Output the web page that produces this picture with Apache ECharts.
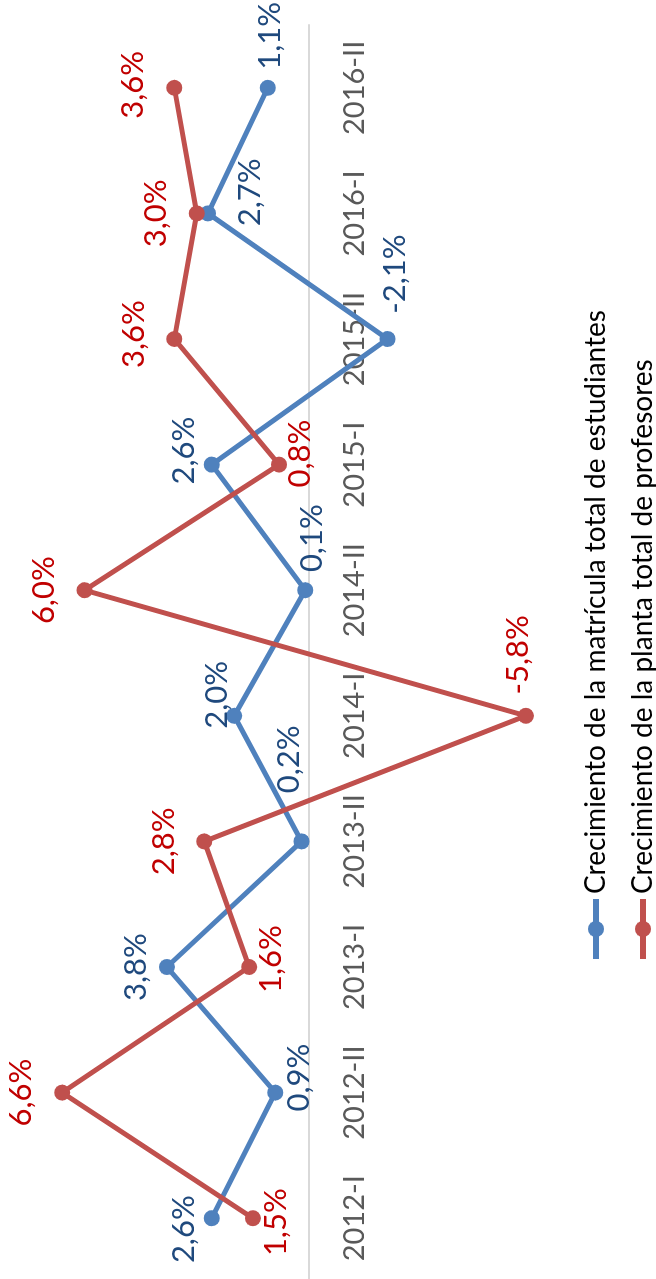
<!DOCTYPE html>
<html><head><meta charset="utf-8">
<script src="https://cdn.jsdelivr.net/npm/echarts@6/dist/echarts.min.js"></script>
<style>
html,body{margin:0;padding:0;width:656px;height:1279px;overflow:hidden;background:#fff;}
#chart{position:absolute;left:0;top:0;width:1279px;height:656px;transform-origin:0 0;transform:translate(0,1279px) rotate(-90deg);}
</style></head><body><div id="chart"></div>
<script>
const categories = ['2012-I','2012-II','2013-I','2013-II','2014-I','2014-II','2015-I','2015-II','2016-I','2016-II'];
const seriesNames = ['Crecimiento de la matrícula total de estudiantes','Crecimiento de la planta total de profesores'];
const matricula = [2.6, 0.9, 3.8, 0.2, 2.0, 0.1, 2.6, -2.1, 2.7, 1.1];
const profesores = [1.5, 6.6, 1.6, 2.8, -5.8, 6.0, 0.8, 3.6, 3.0, 3.6];

// label placement (style only): [dx, dy] from the point
const matriculaLabelOffsets = [[-11,-28],[15,24],[0,-31],[82,-13],[21,-17],[52,7],[14,-28],[65,7],[21,42],[52,2]];
const profesoresLabelOffsets = [[-4,23],[0,-41],[8,22],[0,-40],[61,-8],[0,-41],[11,21],[5,-40],[0,-41],[3,-41]];

const FONT = 'Lato, "Open Sans", sans-serif';
const fmt = p => p.value.toFixed(1).replace('.', ',') + '%';

const Y_MIN = -8, Y_MAX = 8;
const GRID_TOP = 9.8, GRID_BOTTOM = 47.8, CHART_H = 656;

function makeSeries(name, values, offsets, color, labelColor) {
  return {
    name: name,
    type: 'line',
    data: values.map((v, i) => ({ value: v, label: { offset: offsets[i] } })),
    symbol: 'circle',
    symbolSize: 16,
    lineStyle: { width: 5, color: color },
    itemStyle: { color: color },
    label: {
      show: true,
      position: 'inside',
      align: 'center',
      verticalAlign: 'middle',
      formatter: fmt,
      color: labelColor,
      fontSize: 31,
      fontFamily: FONT
    },
    emphasis: { disabled: true }
  };
}

// distance from grid bottom up to the zero line (axis sits on zero)
const gridH = CHART_H - GRID_TOP - GRID_BOTTOM;
const zeroOffset = gridH * (0 - Y_MIN) / (Y_MAX - Y_MIN);

const chart = echarts.init(document.getElementById('chart'), null, { renderer: 'canvas', width: 1279, height: 656 });
chart.setOption({
  animation: false,
  backgroundColor: '#ffffff',
  grid: { left: -2, right: 25, top: GRID_TOP, bottom: GRID_BOTTOM, containLabel: false, outerBoundsMode: 'none' },
  xAxis: {
    type: 'category',
    data: categories,
    boundaryGap: true,
    position: 'bottom',
    offset: -zeroOffset,
    axisLine: { show: true, onZero: false, lineStyle: { color: '#D9D9D9', width: 2 } },
    axisTick: { show: false },
    axisLabel: { color: '#595959', fontSize: 29, fontFamily: FONT, margin: 46, verticalAlign: 'middle', interval: 0 },
    splitLine: { show: false }
  },
  yAxis: {
    type: 'value',
    min: Y_MIN, max: Y_MAX,
    axisLine: { show: false },
    axisTick: { show: false },
    axisLabel: { show: false },
    splitLine: { show: false }
  },
  legend: {
    data: seriesNames,
    orient: 'vertical',
    left: 317,
    top: 581,
    height: 120,
    padding: 0,
    itemWidth: 60,
    itemHeight: 20,
    itemGap: 17,
    lineStyle: { width: 6 },
    textStyle: { color: '#000000', fontSize: 28, fontFamily: FONT, lineHeight: 30 }
  },
  series: [
    makeSeries(seriesNames[0], matricula, matriculaLabelOffsets, '#4F81BD', '#1F497D'),
    makeSeries(seriesNames[1], profesores, profesoresLabelOffsets, '#C0504D', '#C00000')
  ]
});
</script></body></html>
